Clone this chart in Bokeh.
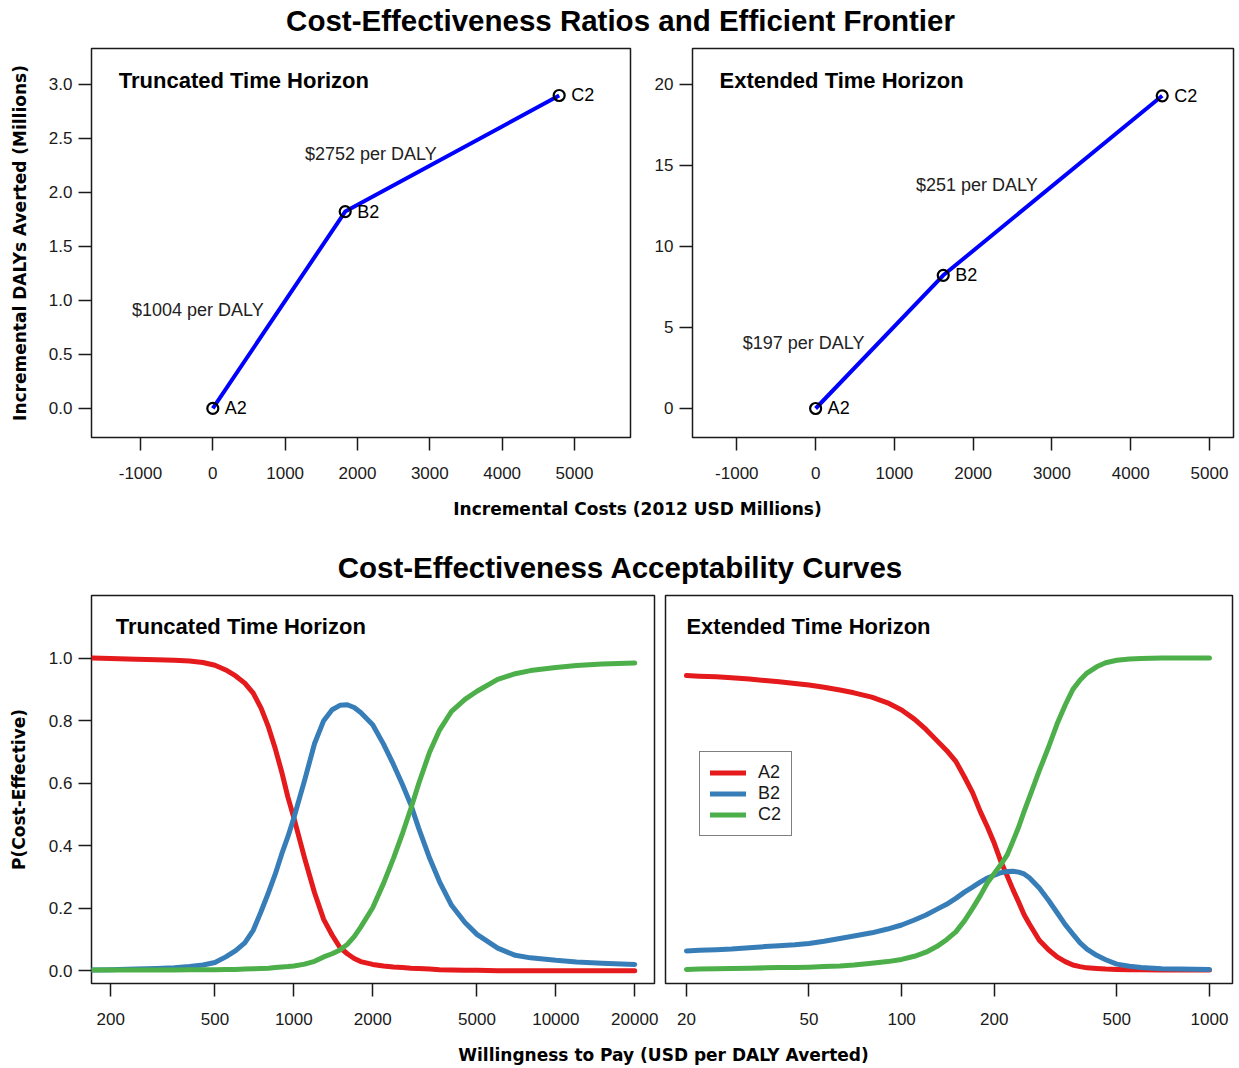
from bokeh.plotting import figure
from bokeh.layouts import column, row
from bokeh.models import Range1d, FixedTicker, PrintfTickFormatter, Legend, LegendItem
from bokeh.core.properties import value
from bokeh.embed import file_html
from bokeh.resources import INLINE

# ---------------- data ----------------
strategies = ["A2", "B2", "C2"]

# efficient frontier: incremental costs (2012 USD millions) and DALYs averted (millions)
trunc_cost = [0, 1830, 4788]
trunc_dalys = [0.0, 1.823, 2.898]
ext_cost = [0, 1620, 4400]
ext_dalys = [0.0, 8.22, 19.30]

# anchor points (data units) for the ICER annotations on each segment
trunc_icer_pos_x = [-207, 2184]
trunc_icer_pos_y = [0.907, 2.352]
ext_icer_pos_x = [-153, 2047]
ext_icer_pos_y = [4.07, 13.77]

cost_ticks = [-1000, 0, 1000, 2000, 3000, 4000, 5000]
trunc_daly_ticks = [0.0, 0.5, 1.0, 1.5, 2.0, 2.5, 3.0]
ext_daly_ticks = [0, 5, 10, 15, 20]

# acceptability curves, truncated horizon
wtp_trunc = [170, 200, 250, 300, 350, 400, 450, 500, 550, 600, 650, 700, 750, 800, 850,
             900, 950, 1000, 1100, 1200, 1300, 1400, 1500, 1600, 1700, 1800, 2000, 2200,
             2400, 2600, 2800, 3000, 3300, 3600, 4000, 4500, 5000, 6000, 7000, 8000,
             10000, 12000, 15000, 20000]
a2_trunc = [1.0, 0.999, 0.996, 0.995, 0.993, 0.991, 0.986, 0.977, 0.962, 0.943, 0.920,
            0.888, 0.84, 0.78, 0.71, 0.635, 0.555, 0.49, 0.36, 0.25, 0.165, 0.115, 0.075,
            0.055, 0.04, 0.03, 0.021, 0.016, 0.013, 0.011, 0.009, 0.008, 0.006, 0.004,
            0.003, 0.002, 0.002, 0.001, 0.001, 0.001, 0.001, 0.001, 0.001, 0.001]
b2_trunc = [0.003, 0.004, 0.006, 0.008, 0.010, 0.014, 0.019, 0.027, 0.045, 0.065, 0.09,
            0.13, 0.19, 0.25, 0.31, 0.375, 0.43, 0.489, 0.61, 0.727, 0.80, 0.835, 0.849,
            0.851, 0.842, 0.826, 0.787, 0.725, 0.66, 0.595, 0.53, 0.455, 0.36, 0.285,
            0.21, 0.155, 0.117, 0.073, 0.05, 0.042, 0.034, 0.029, 0.025, 0.021]
c2_trunc = [0.003, 0.003, 0.003, 0.003, 0.003, 0.004, 0.004, 0.004, 0.005, 0.005, 0.006,
            0.007, 0.008, 0.009, 0.011, 0.013, 0.014, 0.016, 0.022, 0.031, 0.045, 0.055,
            0.067, 0.085, 0.11, 0.14, 0.202, 0.28, 0.36, 0.44, 0.52, 0.6, 0.7, 0.77, 0.83,
            0.868, 0.894, 0.932, 0.95, 0.96, 0.97, 0.976, 0.981, 0.984]
wtp_trunc_ticks = [200, 500, 1000, 2000, 5000, 10000, 20000]

# acceptability curves, extended horizon
wtp_ext = [20, 22, 25, 28, 32, 36, 40, 45, 50, 56, 63, 70, 80, 90, 100, 110, 120, 130, 140,
           150, 160, 170, 180, 190, 200, 210, 220, 230, 240, 250, 260, 280, 300, 320, 340,
           360, 380, 400, 430, 460, 500, 550, 600, 700, 800, 1000]
a2_ext = [0.944, 0.942, 0.940, 0.937, 0.933, 0.928, 0.924, 0.919, 0.914, 0.907, 0.898,
          0.889, 0.875, 0.857, 0.834, 0.805, 0.772, 0.737, 0.705, 0.67, 0.62, 0.57, 0.51,
          0.46, 0.408, 0.35, 0.305, 0.26, 0.22, 0.18, 0.15, 0.098, 0.068, 0.045, 0.03,
          0.019, 0.014, 0.010, 0.008, 0.006, 0.005, 0.004, 0.004, 0.003, 0.003, 0.003]
b2_ext = [0.064, 0.066, 0.068, 0.07, 0.074, 0.078, 0.081, 0.084, 0.088, 0.095, 0.104,
          0.112, 0.122, 0.134, 0.147, 0.163, 0.179, 0.197, 0.213, 0.232, 0.252, 0.268,
          0.284, 0.297, 0.306, 0.314, 0.318, 0.319, 0.316, 0.31, 0.298, 0.265, 0.226,
          0.186, 0.148, 0.118, 0.09, 0.07, 0.05, 0.036, 0.022, 0.015, 0.011, 0.007,
          0.006, 0.005]
c2_ext = [0.005, 0.006, 0.007, 0.008, 0.009, 0.010, 0.011, 0.011, 0.012, 0.014, 0.016,
          0.019, 0.025, 0.03, 0.037, 0.047, 0.06, 0.078, 0.1, 0.125, 0.16, 0.2, 0.24,
          0.282, 0.312, 0.34, 0.37, 0.415, 0.46, 0.51, 0.555, 0.64, 0.715, 0.79, 0.85,
          0.9, 0.93, 0.952, 0.972, 0.985, 0.993, 0.997, 0.999, 1.0, 1.0, 1.0]
wtp_ext_ticks = [20, 50, 100, 200, 500, 1000]
prob_ticks = [0.0, 0.2, 0.4, 0.6, 0.8, 1.0]

# ---------------- styling ----------------
SANS = "Liberation Sans"
AXIS_TITLE_FONT = "DejaVu Sans"
INK = "#1a1a1a"
SERIES_COLORS = {"A2": "#E41A1C", "B2": "#377EB8", "C2": "#4DAF4A"}
W = 1239


def base_fig(width, height, xr, yr, borders, x_log=False):
    left, right, top, bottom = borders
    p = figure(width=width, height=height, x_range=Range1d(*xr), y_range=Range1d(*yr),
               x_axis_type="log" if x_log else "linear",
               output_backend="svg", toolbar_location=None,
               min_border_left=left, min_border_right=right,
               min_border_top=top, min_border_bottom=bottom)
    p.xgrid.visible = False
    p.ygrid.visible = False
    p.outline_line_color = INK
    p.outline_line_width = 1.5
    p.background_fill_color = "white"
    p.border_fill_color = "white"
    for ax in (p.xaxis, p.yaxis):
        ax.axis_line_color = None
        ax.major_tick_line_color = INK
        ax.major_tick_line_width = 1.5
        ax.major_tick_in = 0
        ax.major_tick_out = 13
        ax.minor_tick_line_color = None
        ax.major_label_text_font = SANS
        ax.major_label_text_font_size = "17px"
        ax.major_label_text_color = INK
        ax.axis_label_text_font = AXIS_TITLE_FONT
        ax.axis_label_text_font_style = "bold"
        ax.axis_label_text_font_size = "17px"
        ax.axis_label_text_color = "black"
    p.xaxis.major_label_standoff = 16
    p.yaxis.major_label_standoff = 6
    return p


def panel_title(p, x, y, text):
    p.text(x=[x], y=[y], text=[text], text_font=value(SANS), text_font_style="bold",
           text_font_size="22px", text_color="black", text_baseline="middle", text_align="left")


def frontier(width, borders, xr, yr, costs, dalys, yticks, yfmt, icer_x, icer_y, title,
             title_xy, ylabel=None):
    p = base_fig(width, 450, xr, yr, borders)
    p.xaxis.ticker = FixedTicker(ticks=cost_ticks)
    p.xaxis.formatter = PrintfTickFormatter(format="%d")
    p.yaxis.ticker = FixedTicker(ticks=yticks)
    p.yaxis.formatter = PrintfTickFormatter(format=yfmt)
    if ylabel:
        p.yaxis.axis_label = ylabel
        p.yaxis.axis_label_standoff = 16
    p.line(costs, dalys, line_color="#0000FF", line_width=4)
    p.scatter(costs, dalys, marker="circle", size=11, fill_color=None,
              line_color="black", line_width=2.2)
    p.text(x=costs, y=dalys, text=strategies, x_offset=12, text_baseline="middle",
           text_font=value(SANS), text_font_size="18px", text_color="black")
    # incremental cost-effectiveness ratio of each frontier segment
    icers = [f"${round((costs[i + 1] - costs[i]) / (dalys[i + 1] - dalys[i]))} per DALY"
             for i in range(len(costs) - 1)]
    p.text(x=icer_x, y=icer_y, text=icers, text_align="center", text_baseline="middle",
           text_font=value(SANS), text_font_size="18px", text_color="#222222")
    panel_title(p, title_xy[0], title_xy[1], title)
    return p


def ceac(width, borders, xr, wtp, curves, xticks, title, title_xy, ylabel=None,
         show_y=True, legend_loc=None):
    p = base_fig(width, 450, xr, (-0.04, 1.2), borders, x_log=True)
    p.xaxis.ticker = FixedTicker(ticks=xticks)
    p.xaxis.formatter = PrintfTickFormatter(format="%d")
    p.yaxis.ticker = FixedTicker(ticks=prob_ticks)
    p.yaxis.formatter = PrintfTickFormatter(format="%.1f")
    if not show_y:
        p.yaxis.visible = False
    if ylabel:
        p.yaxis.axis_label = ylabel
        p.yaxis.axis_label_standoff = 17
    items = []
    for name, vals in zip(strategies, curves):
        r = p.line(wtp, vals, line_color=SERIES_COLORS[name], line_width=5, line_cap="round",
                   line_join="round")
        items.append(LegendItem(label=name, renderers=[r]))
    panel_title(p, title_xy[0], title_xy[1], title)
    if legend_loc is not None:
        lg = Legend(items=items, location=legend_loc, orientation="vertical",
                    label_text_font=SANS, label_text_font_size="18px",
                    label_text_color=INK, label_height=21, glyph_height=21,
                    glyph_width=36, label_standoff=12, spacing=0, padding=10, margin=0,
                    border_line_color="black", border_line_width=1.2,
                    background_fill_color="white", background_fill_alpha=1.0)
        p.add_layout(lg, "center")
    return p


def strip(height, texts):
    s = figure(width=W, height=height, x_range=Range1d(0, W), y_range=Range1d(0, height),
               output_backend="svg", toolbar_location=None,
               min_border_left=0, min_border_right=0, min_border_top=0, min_border_bottom=0)
    s.xaxis.visible = False
    s.yaxis.visible = False
    s.xgrid.visible = False
    s.ygrid.visible = False
    s.outline_line_color = None
    for (x, y, txt, font, size) in texts:
        s.text(x=[x], y=[y], text=[txt], text_font=value(font), text_font_style="bold",
               text_font_size=size, text_color="black", text_align="center",
               text_baseline="middle")
    return s


# ---------------- panels ----------------
top_title = strip(40, [(620, 20, "Cost-Effectiveness Ratios and Efficient Frontier",
                        SANS, "29.5px")])

tl = frontier(640, (91, 10, 8, 53), (-1677, 5774), (-0.269, 3.333), trunc_cost, trunc_dalys,
              trunc_daly_ticks, "%.1f", trunc_icer_pos_x, trunc_icer_pos_y,
              "Truncated Time Horizon", (-1300, 3.037),
              ylabel="Incremental DALYs Averted (Millions)")
tr = frontier(599, (52, 6, 8, 53), (-1563, 5305), (-1.79, 22.22), ext_cost, ext_dalys,
              ext_daly_ticks, "%d", ext_icer_pos_x, ext_icer_pos_y,
              "Extended Time Horizon", (-1220, 20.25))

middle = strip(95, [(637, 77, "Incremental Costs (2012 USD Millions)", AXIS_TITLE_FONT, "17px"),
                    (620, 18, "Cost-Effectiveness Acceptability Curves", SANS, "29.5px")])

bl = ceac(660, (91, 6, 10, 52), (169, 23800), wtp_trunc, [a2_trunc, b2_trunc, c2_trunc],
          wtp_trunc_ticks, "Truncated Time Horizon", (209, 1.102),
          ylabel="P(Cost-Effective)")
br = ceac(579, (5, 7, 10, 52), (17.1, 1188), wtp_ext, [a2_ext, b2_ext, c2_ext],
          wtp_ext_ticks, "Extended Time Horizon", (20, 1.102), show_y=False,
          legend_loc=(34, 147))

bottom_label = strip(33, [(663, 14, "Willingness to Pay (USD per DALY Averted)",
                           AXIS_TITLE_FONT, "17px")])

layout = column(top_title, row(tl, tr), middle, row(bl, br), bottom_label)

open("out.html", "w").write(file_html(layout, INLINE))
